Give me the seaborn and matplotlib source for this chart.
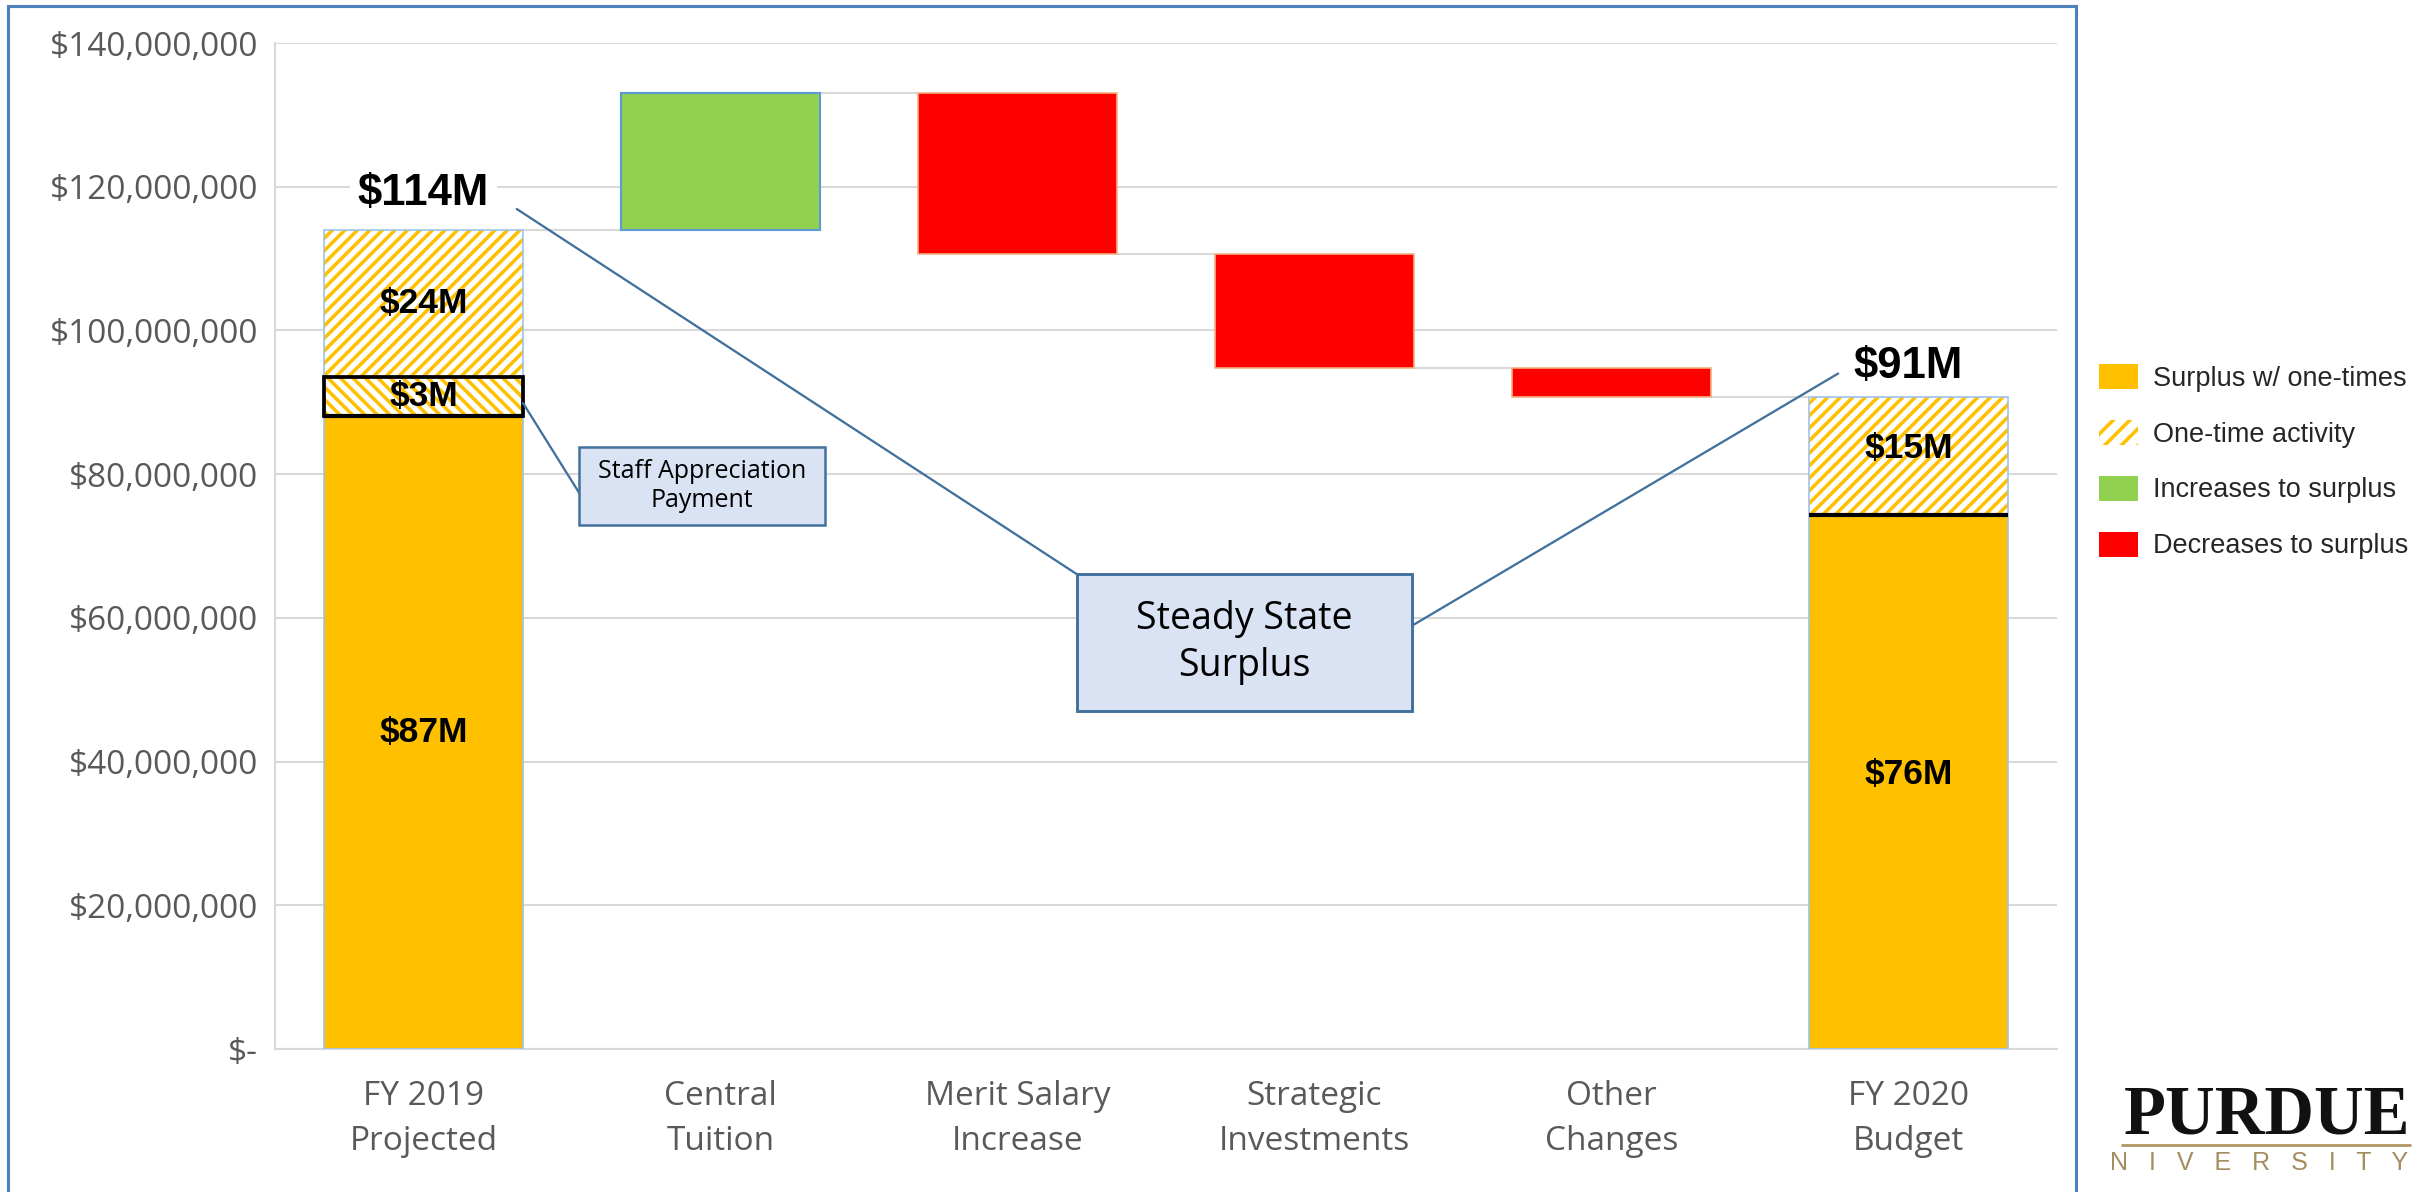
import numpy as np
import pandas as pd
import seaborn as sns
import matplotlib.pyplot as plt
from matplotlib.patches import Patch, Rectangle
from matplotlib.ticker import FuncFormatter

# categories along the x axis
categories = ["FY 2019\nProjected", "Central\nTuition", "Merit Salary\nIncrease",
              "Strategic\nInvestments", "Other\nChanges", "FY 2020\nBudget"]

# FY 2019 projected pieces, $M
fy19_base = 88.1      # surplus w/ one-times (solid)
fy19_staff = 5.4      # staff appreciation payment slice
fy19_onetime = 20.5   # other one-time activity
# changes between the two years, $M
change_vals = [19.1, -22.4, -15.9, -4.0]
# FY 2020 budget pieces, $M
fy20_base = 74.3
fy20_onetime = 16.5

# label texts as shown on the chart
fy19_labels = ["$87M", "$3M", "$24M", "$114M"]
fy20_labels = ["$76M", "$15M", "$91M"]
legend_labels = ["Surplus w/ one-times", "One-time activity",
                 "Increases to surplus", "Decreases to surplus"]

GOLD = "#FFC000"
GREEN = "#92D050"
RED = "#FF0000"
GRID = "#D9D9D9"
BOX_FACE = "#DAE3F3"
BOX_EDGE = "#41719C"
HATCH = "////"

sns.set_style("white")
plt.rcParams["font.family"] = ["Open Sans", "DejaVu Sans"]
plt.rcParams["hatch.linewidth"] = 1.7

W, H, DPI = 2427, 1192, 150
fig = plt.figure(figsize=(W / DPI, H / DPI), dpi=DPI)
ax = fig.add_axes([275 / W, 1 - 1049 / H, (2057 - 275) / W, (1049 - 43) / H])

bw = 0.67
ends = [categories[0], categories[5]]

# solid base of the two totals
base = pd.DataFrame({"cat": ends, "val": [fy19_base, fy20_base]})
sns.barplot(data=base, x="cat", y="val", order=categories, color=GOLD,
            saturation=1, width=bw, edgecolor="none", linewidth=0, ax=ax, zorder=2)

# one-time activity (hatched)
onetime = pd.DataFrame({"cat": ends, "val": [fy19_onetime, fy20_onetime]})
sns.barplot(data=onetime, x="cat", y="val", order=categories, color="white",
            saturation=1, width=bw, edgecolor=GOLD, linewidth=0, hatch=HATCH,
            bottom=[fy19_base + fy19_staff, fy20_base], ax=ax, zorder=2)

# staff appreciation slice
staff = pd.DataFrame({"cat": [categories[0]], "val": [fy19_staff]})
sns.barplot(data=staff, x="cat", y="val", order=categories, color="white",
            saturation=1, width=bw, edgecolor=GOLD, linewidth=0, hatch="\\\\\\\\",
            bottom=[fy19_base], ax=ax, zorder=2)
sns.barplot(data=staff, x="cat", y="val", order=categories, fill=False,
            width=bw, edgecolor="black", linewidth=1.8,
            bottom=[fy19_base], ax=ax, zorder=4)

# thin outline around the totals
totals = [fy19_base + fy19_staff + fy19_onetime, fy20_base + fy20_onetime]
outline = pd.DataFrame({"cat": ends, "val": totals})
sns.barplot(data=outline, x="cat", y="val", order=categories, fill=False,
            width=bw, edgecolor="#9DC3E6", linewidth=0.8, ax=ax, zorder=3)

# floating change bars
start = totals[0]
levels = start + np.cumsum(change_vals)
prev = np.r_[start, levels[:-1]]
chg = pd.DataFrame({"cat": categories[1:5], "val": np.abs(change_vals),
                    "bottom": np.minimum(prev, levels),
                    "up": np.array(change_vals) > 0})
up = chg[chg["up"]]
dn = chg[~chg["up"]]
sns.barplot(data=up, x="cat", y="val", order=categories, color=GREEN, saturation=1,
            width=bw, edgecolor="#5B9BD5", linewidth=1.0, bottom=up["bottom"].values,
            ax=ax, zorder=2)
sns.barplot(data=dn, x="cat", y="val", order=categories, color=RED, saturation=1,
            width=bw, edgecolor="#F4B183", linewidth=0.8, bottom=dn["bottom"].values,
            ax=ax, zorder=2)

# connector lines between bars
run = np.r_[start, levels]
xs = np.arange(len(categories))
ax.hlines(run, xs[:-1] + bw / 2, xs[1:] - bw / 2, color=GRID, lw=1.0, zorder=1)

# black line on top of the solid part
ax.hlines([fy19_base, fy20_base], xs[[0, 5]] - bw / 2, xs[[0, 5]] + bw / 2,
          color="black", lw=2.0, zorder=5)

# axes styling
ax.set_xlim(-0.5, 5.5)
ax.set_ylim(0, 140)
ax.set_yticks(np.arange(0, 141, 20))
ax.yaxis.set_major_formatter(FuncFormatter(
    lambda v, p: "$-" if v == 0 else f"${v * 1e6:,.0f}"))
ax.grid(axis="y", color=GRID, lw=1.0)
ax.set_axisbelow(True)
for s in ["top", "right"]:
    ax.spines[s].set_visible(False)
for s in ["left", "bottom"]:
    ax.spines[s].set_color(GRID)
    ax.spines[s].set_linewidth(1.0)
ax.tick_params(axis="both", length=0, labelsize=16, labelcolor="#595959")
ax.tick_params(axis="y", pad=8)
ax.tick_params(axis="x", pad=15)
for lab in ax.get_xticklabels():
    lab.set_linespacing(1.45)
ax.set_xlabel("")
ax.set_ylabel("")

# value labels
bold = dict(family=["Liberation Sans", "DejaVu Sans"], weight="bold",
            ha="center", va="center", color="black", zorder=6)
fy19_mid = [fy19_base / 2, fy19_base + fy19_staff / 2,
            fy19_base + fy19_staff + fy19_onetime / 2]
for y, t in zip(fy19_mid, fy19_labels[:3]):
    ax.text(0, y, t, fontsize=17, **bold)
ax.text(0, totals[0] + 5.1, fy19_labels[3], fontsize=21,
        bbox=dict(facecolor="white", edgecolor="none", pad=4), **bold)
fy20_mid = [fy20_base / 2 + 1, fy20_base + fy20_onetime / 2 + 1]
for y, t in zip(fy20_mid, fy20_labels[:2]):
    ax.text(5, y, t, fontsize=17, **bold)
ax.text(5, totals[1] + 4.2, fy20_labels[2], fontsize=21, **bold)

# callout boxes
ax.add_patch(Rectangle((2.199, 47.1), 3.328 - 2.199, 66.1 - 47.1,
                       facecolor=BOX_FACE, edgecolor=BOX_EDGE, lw=1.4, zorder=6))
ax.text((2.199 + 3.328) / 2, (47.1 + 66.1) / 2, "Steady State\nSurplus",
        fontsize=18, ha="center", va="center", color="black", zorder=7,
        linespacing=1.3)
ax.plot([0.314, 2.199], [116.9, 66.1], color=BOX_EDGE, lw=1.1, zorder=5)
ax.plot([3.328, 4.763], [58.9, 94.0], color=BOX_EDGE, lw=1.1, zorder=5)

ax.add_patch(Rectangle((0.524, 72.9), 1.352 - 0.524, 83.8 - 72.9,
                       facecolor=BOX_FACE, edgecolor=BOX_EDGE, lw=1.2, zorder=6))
ax.text((0.524 + 1.352) / 2, (72.9 + 83.8) / 2, "Staff Appreciation\nPayment",
        fontsize=12, ha="center", va="center", color="black", zorder=7)
ax.plot([0.335, 0.524], [89.9, 77.4], color=BOX_EDGE, lw=1.1, zorder=5)

# legend
handles = [Patch(facecolor=GOLD, edgecolor="none"),
           Patch(facecolor="white", edgecolor=GOLD, hatch="///", lw=0),
           Patch(facecolor=GREEN, edgecolor="none"),
           Patch(facecolor=RED, edgecolor="none")]
fig.legend(handles, legend_labels, loc="upper left",
           bbox_to_anchor=(2099 / W, 1 - 364 / H), frameon=False,
           prop=dict(family=["Liberation Sans", "DejaVu Sans"], size=13),
           handlelength=1.44, handleheight=1.04, handletextpad=0.55,
           labelspacing=1.04, borderpad=0, borderaxespad=0)

# outer frame
fig.patches.append(Rectangle((8 / W, -0.05), (2076 - 8) / W, 1 - 6 / H + 0.05,
                             transform=fig.transFigure, fill=False,
                             edgecolor="#4F81BD", lw=1.5))

# logo
fig.text(2410 / W, 1 - 1133 / H, "PURDUE", fontsize=33, weight="bold",
         family=["Liberation Serif", "DejaVu Serif"], ha="right", va="baseline",
         color="#111111")
fig.lines.append(plt.Line2D([2122 / W, 2410 / W], [1 - 1145 / H] * 2,
                            transform=fig.transFigure, color="#B59A6A", lw=1.4))
fig.text(2408 / W, 1 - 1170 / H, "N   I   V   E   R   S   I   T   Y", fontsize=12,
         family=["Liberation Sans", "DejaVu Sans"], ha="right", va="baseline",
         color="#A58D5F")

fig.savefig("out.png", dpi=DPI)
